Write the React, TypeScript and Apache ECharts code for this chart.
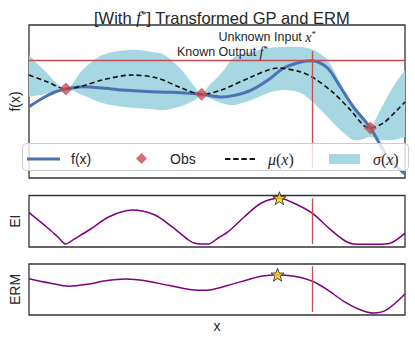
import React, { useEffect, useRef } from "react";
import * as echarts from "echarts";

// ---- data ----
const fX = [0, 0.37, 0.69, 0.98, 1.42, 1.95, 2.48, 3.14, 3.8, 4.59, 5.12, 5.46, 5.91, 6.36, 6.78, 7.23, 7.54, 7.94, 8.28, 8.63, 9.08, 9.42, 9.68, 10];
const fY = [4.66, 5.23, 5.62, 5.82, 5.97, 5.88, 5.75, 5.65, 5.6, 5.47, 5.29, 5.4, 5.75, 6.41, 7.19, 7.58, 7.67, 7.19, 5.95, 4.64, 3.27, 1.83, 0.98, 0.26];

const muX = [0, 0.5, 0.98, 1.42, 1.95, 2.74, 3.4, 4.06, 4.59, 5.12, 5.91, 6.62, 7.23, 7.57, 8.1, 8.55, 8.89, 9.08, 9.42, 9.79, 10];
const muY = [6.73, 6.27, 5.82, 6.01, 6.41, 6.73, 6.54, 5.88, 5.47, 5.75, 6.6, 7.19, 6.93, 6.54, 5.56, 4.44, 3.46, 3.27, 3.59, 4.44, 4.97];

const bandX = [0, 0.37, 0.98, 1.42, 1.95, 2.66, 3.27, 3.61, 4.06, 4.41, 4.59, 4.78, 5.12, 5.46, 5.91, 6.36, 6.78, 7.23, 7.57, 7.94, 8.28, 8.63, 8.89, 9.08, 9.34, 9.68, 10];
const bandUpper = [8.04, 7.12, 5.82, 7.06, 8.04, 8.37, 8.24, 8.04, 7.06, 5.95, 5.47, 6.01, 6.86, 7.91, 8.24, 8.5, 8.56, 8.56, 8.37, 7.71, 6.21, 4.64, 3.9, 3.27, 4.44, 5.95, 7.06];
const bandLower = [5.31, 5.45, 5.82, 5.42, 4.9, 4.6, 4.5, 4.44, 4.71, 5.1, 5.47, 5.23, 4.9, 4.77, 5.1, 5.56, 5.75, 5.56, 4.9, 3.99, 3.14, 2.48, 2.55, 2.68, 2.48, 2.48, 2.68];

const obsX = [0.98, 4.59, 9.08];
const obsY = [5.82, 5.47, 3.27];

const eiX = [0, 0.5, 0.77, 0.98, 1.21, 1.6, 2.13, 2.74, 3.35, 3.8, 4.24, 4.41, 4.59, 4.77, 5.03, 5.3, 5.73, 6.17, 6.66, 7.05, 7.54, 7.93, 8.37, 8.64, 9.25, 9.6, 10];
const eiY = [0.666, 0.369, 0.194, 0.058, 0.159, 0.33, 0.588, 0.718, 0.621, 0.394, 0.136, 0.072, 0.058, 0.058, 0.175, 0.297, 0.588, 0.849, 0.946, 0.849, 0.654, 0.394, 0.136, 0.058, 0.052, 0.072, 0.27];

const ermX = [0, 0.55, 1.07, 1.6, 2.04, 2.57, 3.09, 3.71, 4.5, 4.85, 5.3, 5.73, 6.17, 6.61, 7.05, 7.54, 7.93, 8.37, 8.81, 9.16, 9.52, 10];
const ermY = [0.712, 0.627, 0.563, 0.608, 0.673, 0.706, 0.673, 0.582, 0.484, 0.496, 0.582, 0.673, 0.759, 0.79, 0.759, 0.661, 0.496, 0.269, 0.104, 0.039, 0.104, 0.41];

const xStar = 7.54;
const fStar = 7.67;
const vlineTop = [0.65, 8.3];
const vlineEI = [0.058, 0.946];
const vlineERM = [0.059, 0.955];
const eiStar = [6.66, 0.946];
const ermStar = [6.61, 0.79];

const legendNames = ["f(x)", "Obs", "μ(x)", "σ(x)"];

// ---- styles ----
const SANS = "Liberation Sans";
const SERIF = "Liberation Serif";
const TXT = "#262626";
const RED = "#C44E52";
const BLUE = "#4C72B0";
const BAND = "#a6d7e3";
const PURPLE = "#800080";
const STAR = "path://M12,1 L15,9 L23.5,9 L16.8,14.2 L19.4,22.5 L12,17.5 L4.6,22.5 L7.2,14.2 L0.5,9 L9,9 Z";
const ICON_LINE = "path://M0,0 L32,0 L32,3 L0,3 Z";
const ICON_DASH = "path://M0,0h5.5v1.8h-5.5z M8.3,0h5.5v1.8h-5.5z M16.6,0h5.5v1.8h-5.5z M24.9,0h5.5v1.8h-5.5z";
const ICON_DIAMOND = "path://M5,0 L10,5 L5,10 L0,5 Z";

const pairs = (xs: number[], ys: number[]) => xs.map((x, i) => [x, ys[i]]);

// Catmull-Rom spline through pixel points -> SVG path segments
function splineSeg(pts: number[][], start: boolean) {
  let d = start ? `M${pts[0][0]},${pts[0][1]}` : `L${pts[0][0]},${pts[0][1]}`;
  for (let i = 0; i < pts.length - 1; i++) {
    const p0 = pts[i - 1] || pts[i];
    const p1 = pts[i];
    const p2 = pts[i + 1];
    const p3 = pts[i + 2] || p2;
    const t = 0.9 / 6;
    const c1x = p1[0] + (p2[0] - p0[0]) * t;
    const c1y = p1[1] + (p2[1] - p0[1]) * t;
    const c2x = p2[0] - (p3[0] - p1[0]) * t;
    const c2y = p2[1] - (p3[1] - p1[1]) * t;
    d += ` C${c1x},${c1y} ${c2x},${c2y} ${p2[0]},${p2[1]}`;
  }
  return d;
}

export default function App() {
  const ref = useRef<HTMLDivElement>(null);
  useEffect(() => {
    if (!ref.current) return;
    const chart = echarts.init(ref.current, undefined, { renderer: "svg" });
    const frame = { show: true, borderColor: "#333", borderWidth: 1.3, backgroundColor: "transparent" };
    const xAx = (gi: number, extra: any = {}) => ({
      type: "value", gridIndex: gi, min: 0, max: 10,
      axisLine: { show: false }, axisTick: { show: false }, axisLabel: { show: false }, splitLine: { show: false },
      ...extra,
    });
    const yAx = (gi: number, min: number, max: number, name: string) => ({
      type: "value", gridIndex: gi, min, max, name, nameLocation: "middle", nameGap: 7,
      nameTextStyle: { fontFamily: SANS, fontSize: 14, color: TXT },
      axisLine: { show: false }, axisTick: { show: false }, axisLabel: { show: false }, splitLine: { show: false },
    });
    const vline = (x: number, ys: number[]) => ({
      silent: true, symbol: "none", label: { show: false },
      lineStyle: { color: RED, width: 1.3, type: "solid" },
      data: [[{ coord: [x, ys[0]] }, { coord: [x, ys[1]] }]],
    });
    const rich = {
      i: { fontFamily: SERIF, fontStyle: "italic", fontSize: 14, color: TXT },
      s: { fontFamily: SERIF, fontSize: 9, color: TXT, padding: [0, 0, 7, 0] },
    };
    const legRich = {
      m: { fontFamily: SERIF, fontStyle: "italic", fontSize: 16, color: TXT, lineHeight: 16 },
      n: { fontFamily: SERIF, fontSize: 16, color: TXT, lineHeight: 16 },
    };
    const legendFmt = (n: string) => {
      if (n === "μ(x)") return "{m|μ}{n|(}{m|x}{n|)}";
      if (n === "σ(x)") return "{m|σ}{n|(}{m|x}{n|)}";
      return n;
    };
    const mkLegend = (name: string, icon: string, left: number, w: number, h: number, textPad: number) => ({
      left, top: 156 - h / 2, padding: 0, orient: "horizontal",
      itemWidth: w, itemHeight: h, symbolKeepAspect: true, z: 8,
      data: [{ name, icon }],
      formatter: legendFmt,
      textStyle: { fontFamily: SANS, fontSize: 14, color: TXT, lineHeight: 16, padding: [0, 0, 0, textPad], rich: legRich },
    });
    const option: any = {
      animation: false,
      title: {
        text: "[With {ti|f}{ts|*}] Transformed GP and ERM",
        left: 89, top: 3,
        textStyle: {
          fontFamily: SANS, fontSize: 16.5, fontWeight: "normal", color: TXT,
          rich: {
            ti: { fontFamily: SERIF, fontStyle: "italic", fontSize: 17, color: TXT },
            ts: { fontFamily: SERIF, fontSize: 11, color: TXT, padding: [0, 0, 8, 0] },
          },
        },
      },
      grid: [
        { left: 26, right: 10, top: 25, height: 153, ...frame },
        { left: 26, right: 10, top: 195.5, height: 51.5, ...frame },
        { left: 26, right: 10, top: 264, height: 51, ...frame },
      ],
      xAxis: [
        xAx(0), xAx(1),
        xAx(2, { name: "x", nameLocation: "middle", nameGap: 4, nameTextStyle: { fontFamily: SANS, fontSize: 14, color: TXT, verticalAlign: "top" } }),
      ],
      yAxis: [yAx(0, 0, 10, "f(x)"), yAx(1, 0, 1, "EI"), yAx(2, 0, 1, "ERM")],
      legend: [
        mkLegend(legendNames[0], ICON_LINE, 27, 33, 10, 6),
        mkLegend(legendNames[1], ICON_DIAMOND, 136, 11, 11, 18),
        mkLegend(legendNames[2], ICON_DASH, 225, 30, 10, 8),
        mkLegend(legendNames[3], "rect", 329, 31, 10, 8),
      ],
      graphic: [
        {
          type: "rect", z: 7, silent: true,
          shape: { x: 22.5, y: 143.5, width: 386, height: 27, r: 4 },
          style: { fill: "rgba(255,255,255,0.8)", stroke: "#cccccc", lineWidth: 1 },
        },
        {
          type: "text", right: 415 - 316, top: 29, z: 10,
          style: { text: "Unknown Input {i|x}{s|*}", fontFamily: SANS, fontSize: 12.5, fill: TXT, rich },
        },
        {
          type: "text", right: 415 - 268, top: 44, z: 10,
          style: { text: "Known Output {i|f}{s|*}", fontFamily: SANS, fontSize: 12.5, fill: TXT, rich },
        },
      ],
      series: [
        {
          name: "σ(x)", type: "custom", xAxisIndex: 0, yAxisIndex: 0, z: 1, silent: true,
          itemStyle: { color: BAND },
          data: [[0, 0]],
          renderItem: (_p: any, api: any) => {
            const up = bandX.map((x, i) => api.coord([x, bandUpper[i]]));
            const lo = bandX.map((x, i) => api.coord([x, bandLower[i]])).reverse();
            const d = splineSeg(up, true) + " " + splineSeg(lo, false) + " Z";
            return { type: "path", shape: { pathData: d }, style: { fill: BAND } };
          },
        },
        {
          name: "_refs", type: "line", xAxisIndex: 0, yAxisIndex: 0, symbol: "none", z: 2,
          data: [[xStar, vlineTop[0]]],
          markLine: {
            silent: true, symbol: "none", label: { show: false },
            lineStyle: { color: RED, width: 1.3, type: "solid" },
            data: [
              { yAxis: fStar },
              [{ coord: [xStar, vlineTop[0]] }, { coord: [xStar, vlineTop[1]] }],
            ],
          },
        },
        {
          name: "f(x)", type: "line", xAxisIndex: 0, yAxisIndex: 0, smooth: 0.3, symbol: "none", z: 3,
          color: BLUE, lineStyle: { color: BLUE, width: 3 },
          data: pairs(fX, fY),
        },
        {
          name: "μ(x)", type: "line", xAxisIndex: 0, yAxisIndex: 0, smooth: 0.3, symbol: "none", z: 3,
          color: "#111", lineStyle: { color: "#111", width: 1.6, type: [5, 3] },
          data: pairs(muX, muY),
        },
        {
          name: "Obs", type: "scatter", xAxisIndex: 0, yAxisIndex: 0, symbol: "diamond", symbolSize: 13, z: 4,
          color: RED, itemStyle: { color: RED },
          data: pairs(obsX, obsY),
        },
        {
          name: "EI", type: "line", xAxisIndex: 1, yAxisIndex: 1, smooth: 0.3, symbol: "none", z: 3,
          lineStyle: { color: PURPLE, width: 1.5 },
          data: pairs(eiX, eiY),
          markLine: vline(xStar, vlineEI),
        },
        {
          name: "EI*", type: "scatter", xAxisIndex: 1, yAxisIndex: 1, symbol: STAR, symbolSize: 13, z: 4,
          itemStyle: { color: "#FFD700", borderColor: "#222", borderWidth: 1 },
          data: [eiStar],
        },
        {
          name: "ERM", type: "line", xAxisIndex: 2, yAxisIndex: 2, smooth: 0.3, symbol: "none", z: 3,
          lineStyle: { color: PURPLE, width: 1.5 },
          data: pairs(ermX, ermY),
          markLine: vline(xStar, vlineERM),
        },
        {
          name: "ERM*", type: "scatter", xAxisIndex: 2, yAxisIndex: 2, symbol: STAR, symbolSize: 13, z: 4,
          itemStyle: { color: "#FFD700", borderColor: "#222", borderWidth: 1 },
          data: [ermStar],
        },
      ],
    };
    chart.setOption(option);
    return () => chart.dispose();
  }, []);
  return <div ref={ref} style={{ position: "fixed", left: 0, top: 0, width: 415, height: 340, background: "#fff" }} />;
}
